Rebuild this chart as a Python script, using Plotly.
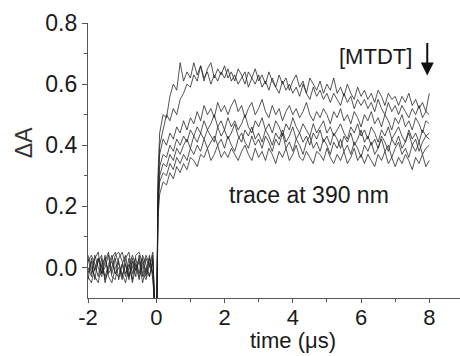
import numpy as np
import plotly.graph_objects as go

# time axis (µs)
t_pre = np.round(np.arange(-2.0, -0.05, 0.1), 2)      # -2.0 .. -0.1
t_jump = [-0.05, 0.02, 0.05]
t_post = np.round(np.arange(0.1, 8.05, 0.1), 2)       # 0.1 .. 8.0
t_all = list(t_pre) + t_jump + list(t_post)

x_tickvals = [-2, 0, 2, 4, 6, 8]
x_ticktext = ["-2", "0", "2", "4", "6", "8"]
y_tickvals = [0.0, 0.2, 0.4, 0.6, 0.8]

# pre-trigger baselines
pre_1 = [0.03, -0.02, 0.04, 0.00, -0.03, 0.02, 0.05, -0.02, 0.03, -0.04, 0.01, 0.04, -0.03, 0.00, 0.03, -0.02, 0.04, 0.01, -0.03, 0.03]
pre_2 = [-0.02, 0.02, -0.04, 0.03, 0.00, -0.03, 0.01, 0.04, -0.02, 0.00, -0.04, 0.03, 0.05, -0.02, 0.01, -0.03, 0.00, 0.04, 0.01, 0.05]
pre_3 = [0.04, 0.00, -0.03, -0.05, 0.01, 0.03, -0.02, 0.00, 0.04, 0.05, 0.02, -0.02, 0.01, -0.04, 0.04, 0.05, 0.01, -0.03, 0.03, -0.02]
pre_4 = [-0.03, -0.05, 0.00, 0.03, -0.02, 0.04, -0.03, -0.05, 0.00, 0.02, -0.03, 0.01, -0.04, 0.03, -0.01, 0.02, -0.05, 0.00, -0.03, 0.02]
pre_5 = [0.02, 0.04, 0.01, -0.03, 0.03, -0.04, -0.01, 0.03, 0.05, 0.01, -0.02, -0.05, 0.00, 0.04, 0.01, -0.04, 0.03, -0.02, 0.04, -0.04]
pre_6 = [0.00, -0.03, 0.03, 0.05, -0.02, 0.00, 0.04, -0.03, -0.04, 0.03, 0.05, 0.01, -0.03, 0.02, -0.03, 0.04, -0.03, 0.03, 0.00, 0.04]
pre_7 = [-0.04, 0.03, -0.01, 0.02, 0.04, -0.05, 0.00, 0.02, -0.02, -0.03, 0.01, -0.03, 0.03, -0.05, 0.00, 0.03, -0.02, -0.04, 0.01, -0.02]

# values around the laser pulse (dip then jump)
jump_1 = [-0.12, -0.12, 0.30]
jump_2 = [-0.12, -0.12, 0.26]
jump_3 = [-0.12, -0.12, 0.24]
jump_4 = [-0.12, -0.12, 0.20]
jump_5 = [-0.12, -0.12, 0.22]
jump_6 = [-0.12, -0.12, 0.18]
jump_7 = [-0.12, -0.12, 0.16]

# post-pulse traces
post_1 = [0.44, 0.50, 0.49, 0.56, 0.60, 0.58, 0.67, 0.61, 0.64, 0.62,
          0.67, 0.63, 0.66, 0.61, 0.65, 0.67, 0.62, 0.65, 0.63, 0.66,
          0.62, 0.64, 0.61, 0.65, 0.63, 0.60, 0.64, 0.62, 0.65, 0.61,
          0.63, 0.60, 0.64, 0.61, 0.59, 0.63, 0.60, 0.62, 0.58, 0.61,
          0.63, 0.59, 0.61, 0.57, 0.62, 0.60, 0.58, 0.61, 0.57, 0.60,
          0.58, 0.62, 0.57, 0.59, 0.56, 0.60, 0.57, 0.55, 0.59, 0.56,
          0.58, 0.55, 0.57, 0.54, 0.58, 0.56, 0.53, 0.57, 0.55, 0.56,
          0.53, 0.56, 0.54, 0.57, 0.53, 0.55, 0.52, 0.54, 0.51, 0.57]
post_2 = [0.40, 0.45, 0.50, 0.48, 0.52, 0.50, 0.55, 0.57, 0.60, 0.59,
          0.63, 0.61, 0.66, 0.62, 0.64, 0.60, 0.63, 0.61, 0.64, 0.62,
          0.65, 0.61, 0.63, 0.60, 0.62, 0.64, 0.59, 0.62, 0.60, 0.63,
          0.59, 0.61, 0.58, 0.62, 0.59, 0.57, 0.61, 0.58, 0.60, 0.57,
          0.59, 0.56, 0.60, 0.57, 0.55, 0.59, 0.56, 0.58, 0.55, 0.57,
          0.54, 0.57, 0.55, 0.53, 0.57, 0.54, 0.56, 0.52, 0.55, 0.53,
          0.55, 0.52, 0.54, 0.51, 0.55, 0.52, 0.50, 0.54, 0.51, 0.53,
          0.50, 0.53, 0.51, 0.49, 0.52, 0.50, 0.53, 0.49, 0.51, 0.50]
post_3 = [0.37, 0.42, 0.40, 0.44, 0.42, 0.46, 0.44, 0.48, 0.45, 0.49,
          0.47, 0.51, 0.48, 0.53, 0.50, 0.52, 0.49, 0.54, 0.51, 0.53,
          0.50, 0.53, 0.55, 0.51, 0.53, 0.49, 0.52, 0.54, 0.50, 0.52,
          0.55, 0.51, 0.49, 0.53, 0.50, 0.52, 0.48, 0.51, 0.53, 0.50,
          0.52, 0.49, 0.51, 0.54, 0.50, 0.48, 0.51, 0.49, 0.52, 0.50,
          0.47, 0.51, 0.49, 0.52, 0.48, 0.50, 0.47, 0.51, 0.49, 0.46,
          0.50, 0.48, 0.51, 0.47, 0.49, 0.46, 0.50, 0.48, 0.45, 0.49,
          0.47, 0.50, 0.46, 0.48, 0.45, 0.49, 0.47, 0.44, 0.48, 0.47]
post_4 = [0.33, 0.37, 0.36, 0.40, 0.38, 0.42, 0.40, 0.43, 0.41, 0.45,
          0.43, 0.46, 0.44, 0.48, 0.45, 0.47, 0.50, 0.46, 0.48, 0.45,
          0.49, 0.46, 0.48, 0.45, 0.47, 0.50, 0.46, 0.44, 0.48, 0.46,
          0.49, 0.45, 0.47, 0.44, 0.48, 0.46, 0.43, 0.47, 0.45, 0.49,
          0.46, 0.44, 0.47, 0.45, 0.43, 0.47, 0.44, 0.46, 0.48, 0.44,
          0.46, 0.43, 0.45, 0.47, 0.44, 0.42, 0.46, 0.44, 0.47, 0.43,
          0.45, 0.42, 0.46, 0.44, 0.41, 0.45, 0.43, 0.46, 0.42, 0.44,
          0.46, 0.43, 0.41, 0.45, 0.42, 0.44, 0.41, 0.45, 0.43, 0.44]
post_5 = [0.30, 0.34, 0.33, 0.37, 0.35, 0.39, 0.37, 0.40, 0.42, 0.39,
          0.43, 0.41, 0.44, 0.42, 0.45, 0.43, 0.41, 0.46, 0.43, 0.45,
          0.42, 0.44, 0.47, 0.43, 0.41, 0.45, 0.43, 0.46, 0.42, 0.44,
          0.41, 0.45, 0.43, 0.40, 0.44, 0.42, 0.45, 0.41, 0.43, 0.46,
          0.42, 0.44, 0.41, 0.43, 0.40, 0.44, 0.42, 0.45, 0.41, 0.43,
          0.40, 0.44, 0.42, 0.39, 0.43, 0.41, 0.44, 0.40, 0.42, 0.45,
          0.41, 0.43, 0.40, 0.42, 0.39, 0.43, 0.41, 0.38, 0.42, 0.40,
          0.43, 0.39, 0.41, 0.44, 0.40, 0.42, 0.38, 0.41, 0.43, 0.42]
post_6 = [0.28, 0.31, 0.30, 0.34, 0.32, 0.36, 0.34, 0.37, 0.35, 0.39,
          0.37, 0.40, 0.38, 0.42, 0.39, 0.41, 0.43, 0.40, 0.42, 0.39,
          0.43, 0.40, 0.38, 0.42, 0.44, 0.41, 0.39, 0.43, 0.40, 0.42,
          0.39, 0.43, 0.41, 0.38, 0.42, 0.40, 0.44, 0.39, 0.41, 0.38,
          0.42, 0.40, 0.37, 0.41, 0.43, 0.39, 0.41, 0.38, 0.42, 0.40,
          0.37, 0.41, 0.39, 0.42, 0.38, 0.40, 0.37, 0.41, 0.39, 0.36,
          0.40, 0.38, 0.41, 0.37, 0.39, 0.42, 0.38, 0.40, 0.36, 0.39,
          0.41, 0.37, 0.39, 0.36, 0.40, 0.38, 0.41, 0.37, 0.39, 0.40]
post_7 = [0.24, 0.28, 0.27, 0.31, 0.29, 0.33, 0.31, 0.34, 0.32, 0.36,
          0.35, 0.33, 0.37, 0.36, 0.39, 0.35, 0.37, 0.40, 0.36, 0.38,
          0.36, 0.39, 0.37, 0.35, 0.38, 0.40, 0.37, 0.35, 0.39, 0.36,
          0.38, 0.35, 0.39, 0.37, 0.34, 0.38, 0.36, 0.39, 0.35, 0.37,
          0.40, 0.36, 0.35, 0.38, 0.36, 0.34, 0.38, 0.37, 0.35, 0.39,
          0.36, 0.34, 0.37, 0.35, 0.38, 0.34, 0.36, 0.39, 0.35, 0.37,
          0.34, 0.37, 0.35, 0.33, 0.37, 0.35, 0.38, 0.34, 0.36, 0.33,
          0.36, 0.34, 0.37, 0.35, 0.32, 0.36, 0.34, 0.37, 0.33, 0.35]

traces = [
    (pre_1, jump_1, post_1), (pre_2, jump_2, post_2), (pre_3, jump_3, post_3),
    (pre_4, jump_4, post_4), (pre_5, jump_5, post_5), (pre_6, jump_6, post_6),
    (pre_7, jump_7, post_7),
]

FONT = "Liberation Sans, Arial, sans-serif"
FS = 23
TXT = "#1a1a1a"
AX = "#555555"

fig = go.Figure()
for pre, jmp, post in traces:
    fig.add_trace(go.Scatter(
        x=t_all, y=pre + jmp + post, mode="lines",
        line=dict(color="rgba(30,30,30,0.85)", width=0.9),
        showlegend=False, hoverinfo="skip"))

fig.update_layout(
    width=460, height=356,
    margin=dict(l=88, r=0, t=23, b=58),
    paper_bgcolor="white", plot_bgcolor="white",
    font=dict(family=FONT, size=FS, color=TXT),
)
fig.update_xaxes(
    range=[-2, 8.9], showgrid=False, zeroline=False,
    showline=True, linecolor=AX, linewidth=1.2,
    tickvals=x_tickvals, ticktext=x_ticktext,
    ticks="outside", ticklen=4, tickcolor=AX, tickwidth=1.2,
    ticklabelstandoff=-5,
    minor=dict(tickvals=[-1, 1, 3, 5, 7], ticks="outside", ticklen=3, tickcolor=AX),
    tickfont=dict(size=22, color=TXT, family=FONT),
)
fig.update_yaxes(
    range=[-0.1, 0.8], showgrid=False, zeroline=False,
    showline=True, linecolor=AX, linewidth=1.2,
    tickvals=y_tickvals, tickformat=".1f",
    ticks="outside", ticklen=5, tickcolor=AX, tickwidth=1.2,
    minor=dict(tickvals=[0.1, 0.3, 0.5, 0.7], ticks="outside", ticklen=3, tickcolor=AX),
    tickfont=dict(size=FS, color=TXT, family=FONT),
)

fig.add_annotation(text="ΔA", xref="paper", yref="paper", x=-0.172, y=0.563,
                   textangle=-90, showarrow=False, font=dict(size=FS, color="#333"),
                   xanchor="center", yanchor="middle")
fig.add_annotation(text="time (μs)", xref="paper", yref="paper", x=0.551, y=-0.208,
                   showarrow=False, font=dict(size=22, color=TXT),
                   xanchor="center", yanchor="bottom")
fig.add_annotation(text="trace at 390 nm", x=2.08, y=0.238, showarrow=False,
                   font=dict(size=FS, color=TXT), xanchor="left", yanchor="middle")
fig.add_annotation(text="[MTDT]", x=7.55, y=0.69, showarrow=False,
                   font=dict(size=22, color=TXT), xanchor="right", yanchor="middle")
fig.add_annotation(text="", x=7.94, y=0.628, ax=0, ay=-34, showarrow=True,
                   arrowhead=2, arrowsize=1.3, arrowwidth=2, arrowcolor="#111")

fig.write_html("out.html")
